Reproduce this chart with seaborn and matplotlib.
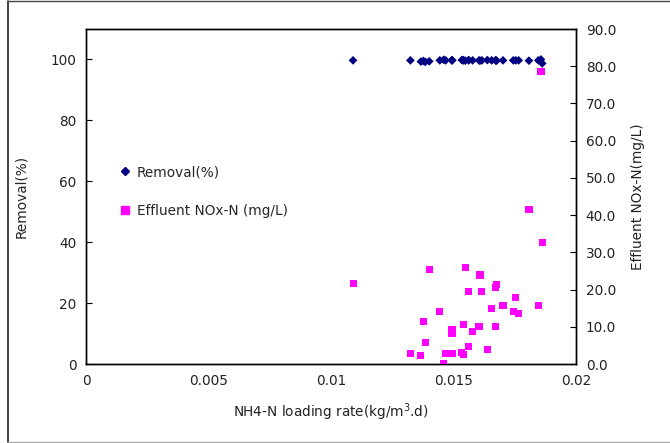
import matplotlib
matplotlib.use("Agg")
import matplotlib.pyplot as plt
import seaborn as sns
import pandas as pd
from matplotlib.lines import Line2D
from matplotlib.ticker import FixedLocator, FuncFormatter

# ---- data ----
loading_rate = [0.0109, 0.01324, 0.01367, 0.01377, 0.01385, 0.01401, 0.01444, 0.0146,
                0.01468, 0.01494, 0.01494, 0.01494, 0.01534, 0.0154, 0.0154, 0.01548,
                0.01562, 0.01562, 0.01578, 0.01604, 0.01608, 0.01616, 0.01638, 0.01656,
                0.01672, 0.01672, 0.01676, 0.01702, 0.01744, 0.01754, 0.01766, 0.01808,
                0.01846, 0.01857, 0.01862]
effluent_nox = [21.7, 2.7, 2.3, 11.3, 5.8, 25.3, 14.0, 0.0,
                2.7, 9.3, 8.1, 2.7, 3.0, 10.5, 2.6, 25.9,
                19.4, 4.6, 8.8, 10.1, 23.9, 19.4, 3.8, 14.9,
                20.5, 10.0, 21.3, 15.6, 14.0, 17.8, 13.5, 41.6,
                15.6, 78.5, 32.7]
removal = [99.7, 99.7, 99.3, 99.5, 99.2, 99.4, 99.7, 99.9,
           99.7, 99.7, 99.7, 99.8, 99.8, 99.7, 99.8, 99.6,
           99.7, 99.8, 99.7, 99.7, 99.6, 99.7, 99.8, 99.7,
           99.7, 99.7, 99.6, 99.7, 99.7, 99.7, 99.7, 99.6,
           99.7, 100.0, 98.7]
x_ticks = [0, 0.005, 0.01, 0.015, 0.02]
left_ticks = [0, 20, 40, 60, 80, 100]
right_ticks = [0, 10, 20, 30, 40, 50, 60, 70, 80, 90]

df = pd.DataFrame({"rate": loading_rate, "nox": effluent_nox, "removal": removal})

sns.set_style("white")
plt.rcParams["font.family"] = ["DejaVu Sans"]
fs = 9.8

fig = plt.figure(figsize=(6.7, 4.43), dpi=100)
ax = fig.add_axes([86 / 670, 1 - 364 / 443, 490 / 670, 335 / 443])
ax2 = ax.twinx()

sns.scatterplot(data=df, x="rate", y="removal", ax=ax, marker="D", s=20,
                color="#000080", edgecolor="none", zorder=3)
sns.scatterplot(data=df, x="rate", y="nox", ax=ax2, marker="s", s=26,
                color="#FF00FF", edgecolor="none", zorder=3)

ax.set_xlim(0, 0.02)
ax.set_ylim(0, 110)
ax2.set_ylim(0, 90)
ax.xaxis.set_major_locator(FixedLocator(x_ticks))
ax.xaxis.set_major_formatter(FuncFormatter(lambda v, p: f"{v:g}"))
ax.yaxis.set_major_locator(FixedLocator(left_ticks))
ax2.yaxis.set_major_locator(FixedLocator(right_ticks))
ax2.yaxis.set_major_formatter(FuncFormatter(lambda v, p: f"{v:.1f}"))

for a in (ax, ax2):
    for s in a.spines.values():
        s.set_color("black")
        s.set_linewidth(1.0)
    a.tick_params(direction="in", length=4, width=0.8, colors="black",
                  labelsize=fs, labelcolor="#222222")
ax.tick_params(axis="x", pad=7)
ax.tick_params(axis="y", pad=7)
ax2.tick_params(axis="y", pad=7)
ax2.set_xlim(0, 0.02)

ax.set_xlabel("NH4-N loading rate(kg/m$^3$.d)", fontsize=fs, color="#222222", labelpad=10)
ax.set_ylabel("Removal(%)", fontsize=fs, color="#222222", labelpad=16)
ax2.set_ylabel("Effluent NOx-N(mg/L)", fontsize=fs, color="#222222", labelpad=11)

handles = [
    Line2D([], [], linestyle="none", marker="D", markersize=4.5, color="#000080"),
    Line2D([], [], linestyle="none", marker="s", markersize=5.5, color="#FF00FF"),
]
ax.legend(handles, ["Removal(%)", "Effluent NOx-N (mg/L)"], loc="center left",
          bbox_to_anchor=(0.04, 0.515), frameon=False, fontsize=fs,
          labelspacing=1.8, handletextpad=0.4, handlelength=1.0)

# figure border
fig.add_artist(Line2D([8 / 670, 8 / 670], [0.002, 0.997], color="#222222", lw=1.2,
                      transform=fig.transFigure))
fig.add_artist(Line2D([8 / 670, 1.0], [0.997, 0.997], color="#444444", lw=1.0,
                      transform=fig.transFigure))
fig.add_artist(Line2D([8 / 670, 1.0], [0.003, 0.003], color="#aaaaaa", lw=1.0,
                      transform=fig.transFigure))

fig.savefig("out.png", dpi=100)
